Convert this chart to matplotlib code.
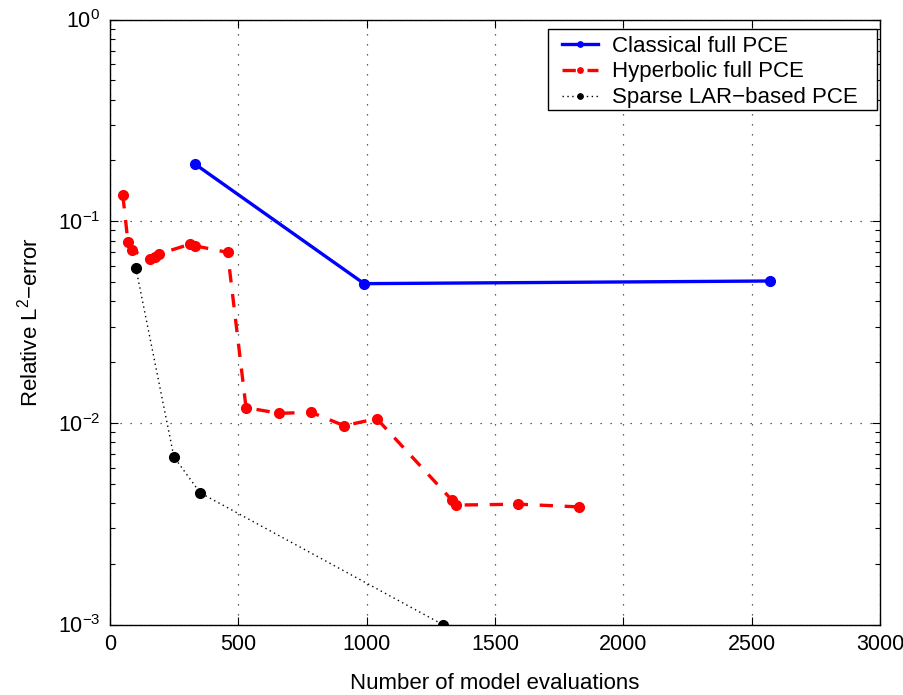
import matplotlib
matplotlib.use("Agg")
import matplotlib.pyplot as plt
from matplotlib.patches import Rectangle
from matplotlib.ticker import LogLocator, MultipleLocator, NullFormatter

plt.rcParams['font.family'] = ['Liberation Sans', 'DejaVu Sans']
plt.rcParams['mathtext.fontset'] = 'custom'
plt.rcParams['mathtext.rm'] = 'Liberation Sans'
plt.rcParams['mathtext.it'] = 'Liberation Sans:italic'

# Data
classical_x = [331, 990, 2570]
classical_y = [0.192, 0.049, 0.0505]

hyper_x = [50, 70, 85, 155, 175, 190, 312, 331, 458, 530, 658, 784, 913, 1039, 1332, 1348, 1591, 1827]
hyper_y = [0.1346, 0.0785, 0.072, 0.0646, 0.0665, 0.0687, 0.0769, 0.0755, 0.070,
           0.0119, 0.01115, 0.01127, 0.00967, 0.0105, 0.00414, 0.00391, 0.00395, 0.00383]

sparse_x = [101, 249, 351, 1296]
sparse_y = [0.0584, 0.00678, 0.0045, 0.001]

labels = ["Classical full PCE", "Hyperbolic full PCE", "Sparse LAR\u2212based PCE"]
xlabel = "Number of model evaluations"
ylabel = "Relative L$^2$\u2212error"

W, H = 904, 695
fig = plt.figure(figsize=(W / 100, H / 100), dpi=100)
ax = fig.add_axes([110/W, 1 - 624.5/H, 770/W, 605/H])

ax.plot(classical_x, classical_y, color='#0000ff', lw=2.4, marker='o', ms=7,
        label=labels[0], zorder=3)
ax.plot(hyper_x, hyper_y, color='#ff0000', lw=2.4, ls=(0, (4, 3.5)), marker='o', ms=7,
        label=labels[1], zorder=3)
ax.plot(sparse_x, sparse_y, color='black', lw=1.0, ls=(0, (1, 2.5)), marker='o', ms=7,
        label=labels[2], zorder=3)

ax.set_yscale('log')
ax.set_xlim(0, 3000)
ax.set_ylim(1e-3, 1)
ax.xaxis.set_major_locator(MultipleLocator(500))
ax.yaxis.set_major_locator(LogLocator(base=10, numticks=10))
ax.yaxis.set_minor_locator(LogLocator(base=10, subs=range(2, 10), numticks=20))
ax.yaxis.set_minor_formatter(NullFormatter())

ax.tick_params(which='both', direction='in', top=True, right=True, labelsize=15.5,
               width=0.8, colors='black')
ax.tick_params(which='major', length=6, pad=7)
ax.tick_params(which='minor', length=3.5)

ax.grid(True, which='major', color='#333333', ls=(0, (1, 7)), lw=0.9)
for s in ax.spines.values():
    s.set_linewidth(1.0)

ax.set_xlabel(xlabel, fontsize=16, labelpad=13)
ax.set_ylabel(ylabel, fontsize=16, labelpad=11)

# Legend box (MATLAB-style wide padding)
frame = Rectangle((548 / W, 1 - 110 / H), (877 - 548) / W, (110 - 29) / H,
                  transform=fig.transFigure, facecolor='white', edgecolor='black',
                  lw=1.0, zorder=4.5)
ax.add_patch(frame)
frame.set_clip_on(False)

leg = ax.legend(loc='upper left', fontsize=16, frameon=False,
                bbox_to_anchor=(562 / W, 1 - 35.5 / H), bbox_transform=fig.transFigure,
                borderaxespad=0.0, borderpad=0.0,
                handlelength=1.62, handletextpad=0.63, labelspacing=0.22,
                markerscale=0.55)
leg.set_zorder(5)

fig.savefig("out.png", dpi=100)
